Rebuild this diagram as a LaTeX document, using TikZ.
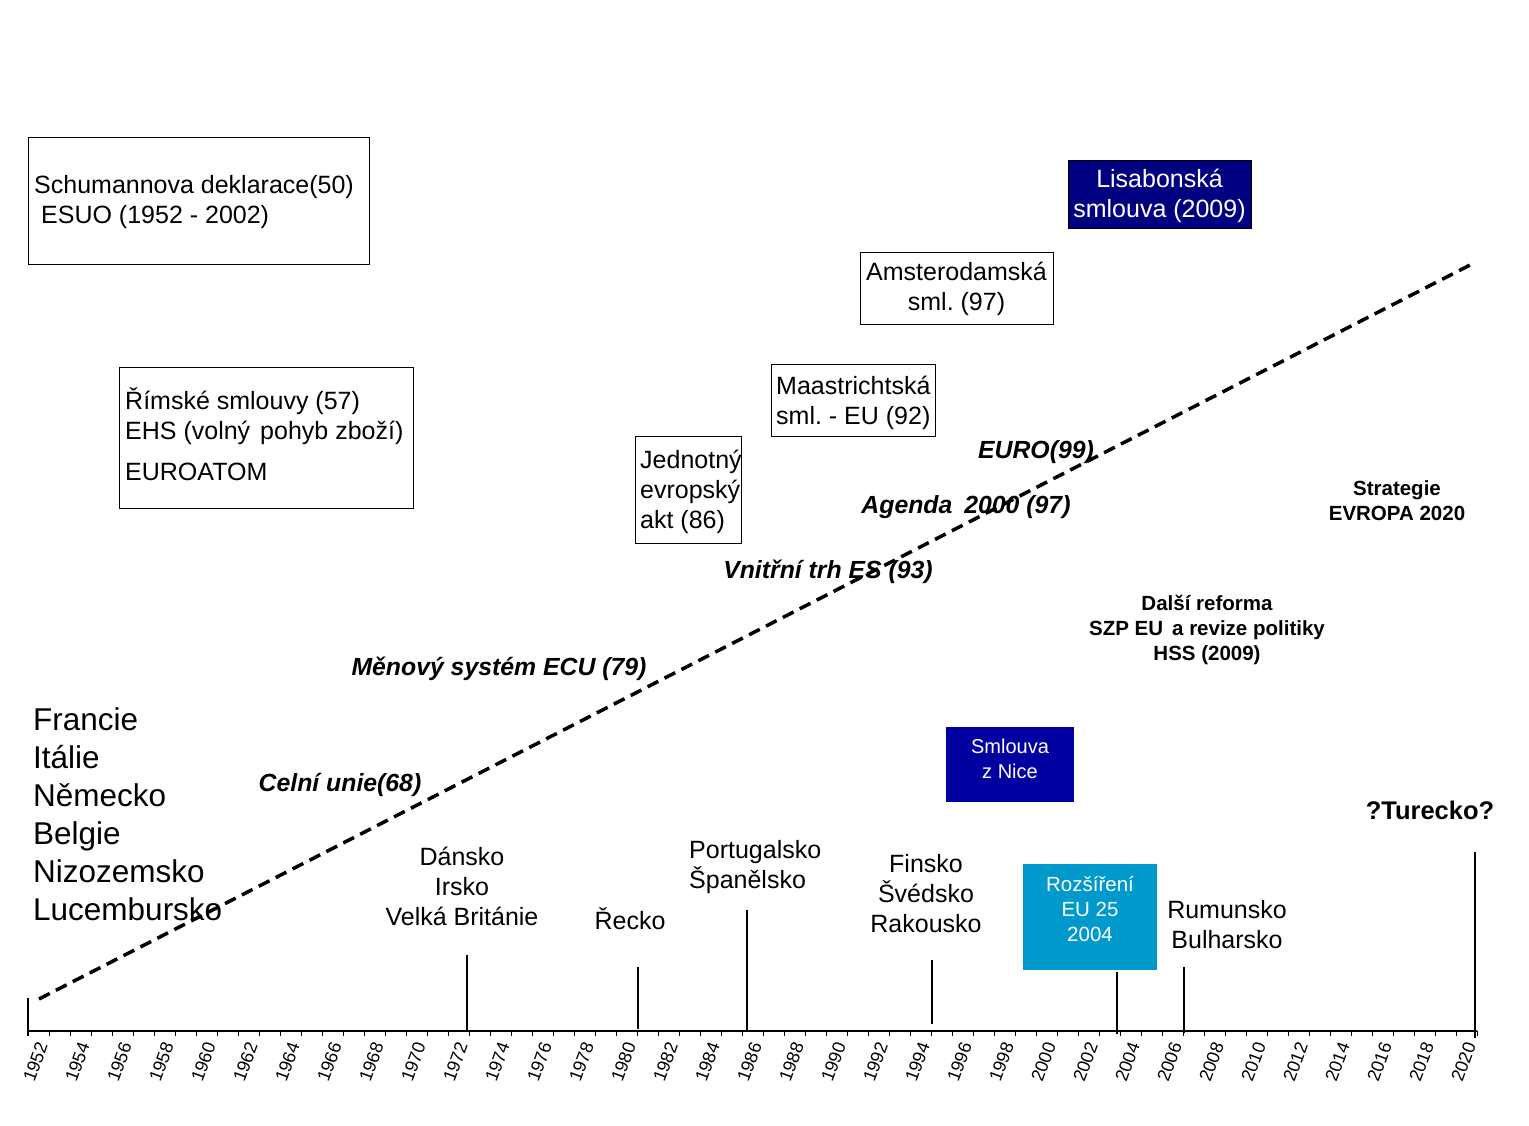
\documentclass[tikz,border=0pt]{standalone}
\usepackage{fontspec}
\setmainfont{Liberation Sans}
\definecolor{navybox}{HTML}{000080}
\definecolor{nicebl}{HTML}{0000A0}
\definecolor{rozbl}{HTML}{0099CC}
\newcommand{\fsz}[2]{\fontsize{#1}{#2}\selectfont}
\frenchspacing
\begin{document}
\begin{tikzpicture}[x=1pt,y=-1pt,
  box/.style={draw=black, line width=1pt, inner sep=0pt, anchor=north west},
  cbox/.style={inner sep=0pt, anchor=north west},
  lbl/.style={inner sep=0pt, align=center},
  lft/.style={inner sep=0pt, align=left, anchor=west},
  bi/.style={inner sep=0pt, font=\fsz{24.8}{30}\bfseries\itshape},
  bd/.style={inner sep=0pt, align=center, font=\fsz{20.5}{25}\bfseries},
  evt/.style={line width=2pt},
  trend/.style={line width=3.5pt, dash pattern=on 12pt off 7pt}]
\fill[white] (0,0) rectangle (1529,1125);
\useasboundingbox (0,0) rectangle (1529,1125);

% boxes
\node[box, minimum width=341, minimum height=127] (schumanbox) at (28,137) {};
\node[lft, font=\fsz{25}{30}] (schuman) at (34,202.5)
  {Schumannova deklarace(50)\\\hspace*{7pt}ESUO (1952 - 2002)};
\node[box, minimum width=294, minimum height=141] (rimskebox) at (119,367) {};
\node[lft, font=\fsz{25}{30}] (rimske) at (125,434.5)
  {Římské smlouvy (57)\\EHS (volný\hspace{10pt}pohyb zboží)\\[11pt]EUROATOM};
\node[box, minimum width=106, minimum height=107] (jeabox) at (635,436) {};
\node[lft, font=\fsz{25}{30}] (jea) at (640,491.5) {Jednotný\\evropský\\akt (86)};
\node[box, minimum width=164, minimum height=72] (maasbox) at (771,364) {};
\node[lft, font=\fsz{25}{30}] (maas) at (776,402.5) {Maastrichtská\\sml. - EU (92)};
\node[box, minimum width=193, minimum height=72] (amstbox) at (860,252) {};
\node[lbl, font=\fsz{25}{30}] (amst) at (956.5,289) {Amsterodamská\\sml. (97)};
\node[box, fill=navybox, minimum width=183, minimum height=68] (lisbox) at (1068,160) {};
\node[lbl, text=white, font=\fsz{25}{30}] (lis) at (1159.5,196) {Lisabonská\\smlouva (2009)};
\node[cbox, fill=nicebl, minimum width=128, minimum height=75] (nicebox) at (946,727) {};
\node[lbl, text=white, font=\fsz{20}{25}] (nicetxt) at (1010,759) {Smlouva\\z Nice};
\node[cbox, fill=rozbl, minimum width=134, minimum height=106] (rozbox) at (1023,864) {};
\node[lbl, text=white, font=\fsz{20.5}{25}] (roztxt) at (1090,909) {Rozšíření\\EU 25\\2004};

% bold italic milestones
\node[bi] (euro) at (1036,452) {EURO(99)};
\node[bi] (agenda) at (966,507) {Agenda\hspace{12pt}2000 (97)};
\node[bi] (vnitrni) at (828,572) {Vnitřní trh ES (93)};
\node[bi] (menovy) at (499,669) {Měnový systém ECU (79)};
\node[bi] (celni) at (340,785) {Celní unie(68)};

% bold notes
\node[bd] (strat) at (1397,501) {Strategie\\EVROPA 2020};
\node[bd] (dalsi) at (1207,630) {Další reforma\\SZP EU\hspace{9pt}a revize politiky\\HSS (2009)};
\node[inner sep=0pt, font=\fsz{25.5}{30}\bfseries] (turk) at (1430,810) {?Turecko?};

% countries
\node[lft, font=\fsz{31.5}{38}] (founders) at (33,814)
  {Francie\\Itálie\\Německo\\Belgie\\Nizozemsko\\Lucembursko};
\node[lbl, font=\fsz{25}{30}] (dk) at (462,886) {Dánsko\\Irsko\\Velká Británie};
\node[lbl, font=\fsz{25}{30}] (gr) at (630,919) {Řecko};
\node[lft, font=\fsz{25}{30}] (pt) at (689,867) {Portugalsko\\Španělsko};
\node[lbl, font=\fsz{25}{30}] (fi) at (926,894) {Finsko\\Švédsko\\Rakousko};
\node[lbl, font=\fsz{25}{30}] (ro) at (1227,925) {Rumunsko\\Bulharsko};

% axis
\draw[line width=1.5pt] (28,1031) -- (1477,1031);
\foreach \k in {0,...,69} \draw[line width=1pt] ({28+21*\k},1031) -- ++(0,5);
\foreach \k in {0,...,34} {
  \pgfmathtruncatemacro\yr{1952+2*\k}
  \node[rotate=70, inner sep=0pt, font=\fsz{18}{21}] (y\yr) at ({35.5+42*\k},1062) {\yr};
}

% event lines
\draw[evt] (28,998) -- (28,1036);
\draw[evt] (467,955) -- (467,1031);
\draw[evt] (638,967) -- (638,1029);
\draw[evt] (747,910) -- (747,1031);
\draw[evt] (932,960) -- (932,1024);
\draw[evt] (1117,972) -- (1117,1034);
\draw[evt] (1184,967) -- (1184,1033);
\draw[evt] (1475,852) -- (1475,1038);

% trend line
\coordinate (trendA) at (39,999);
\coordinate (trendB) at (1472,264);
\draw[trend] (trendA) -- (trendB);
\end{tikzpicture}
\end{document}
